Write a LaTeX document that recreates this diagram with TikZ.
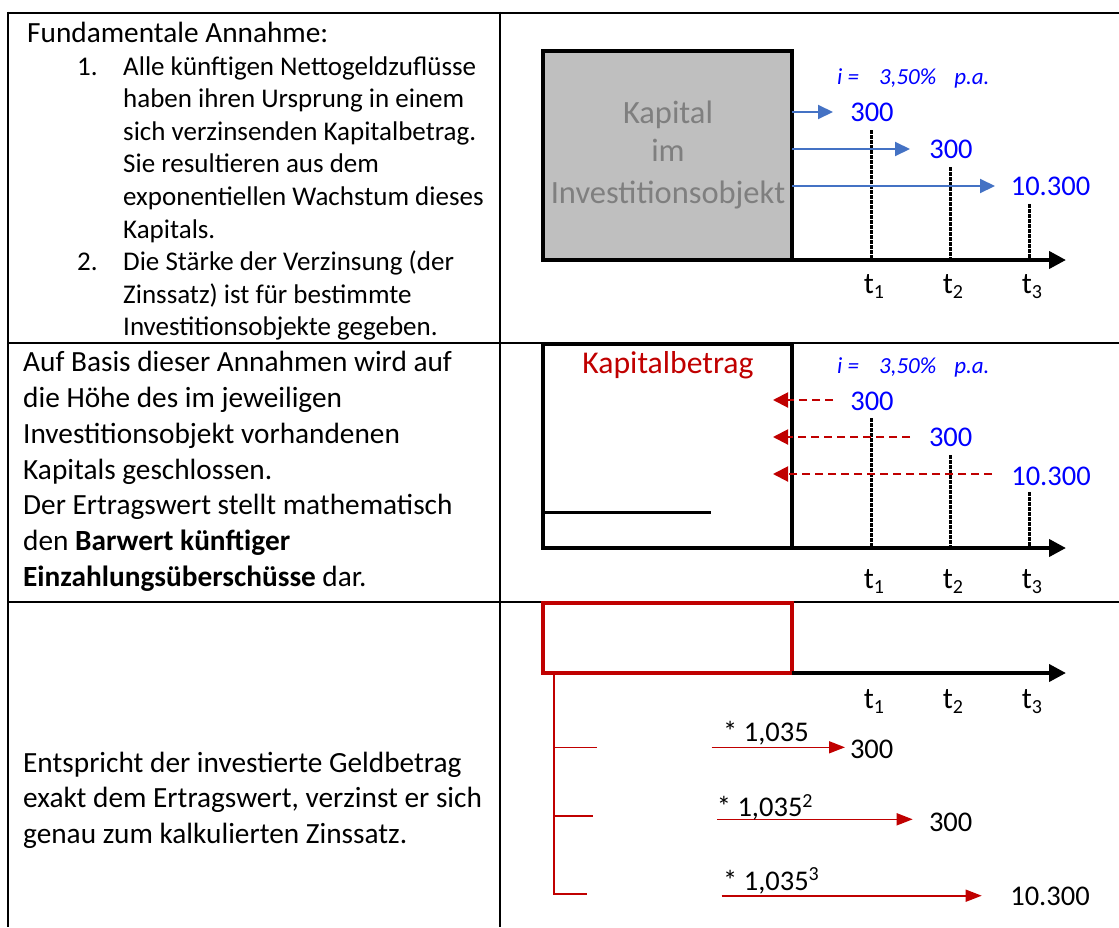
\documentclass[tikz,border=0pt]{standalone}
\usepackage{fontspec}
\setmainfont{Carlito}
\usetikzlibrary{arrows.meta}
\definecolor{tblue}{RGB}{0,0,255}
\definecolor{ablue}{RGB}{68,114,196}
\definecolor{dred}{RGB}{192,0,0}
\definecolor{boxgray}{RGB}{191,191,191}
\definecolor{txtgray}{RGB}{127,127,127}
\newcommand{\tsub}[1]{t\raisebox{-5pt}{\fontsize{20}{20}\selectfont #1}}
\newcommand{\ratetext}{i =\hspace{20pt}3,50\%\hspace{18pt}p.a.}
\begin{document}
\begin{tikzpicture}[x=1pt,y=-1pt,
  grid/.style={line width=2pt},
  bodyA/.style={anchor=base west, inner sep=0pt, font=\fontsize{27}{32}\selectfont},
  bodyB/.style={anchor=base west, inner sep=0pt, font=\fontsize{29.3}{35}\selectfont},
  capbox/.style={draw, line width=3.5pt, inner sep=0pt, outer sep=0pt},
  axis/.style={line width=4pt, -{Triangle[length=17pt,width=17pt]}},
  hatch/.style={line width=3pt, dash pattern=on 4pt off 1pt},
  barrow/.style={ablue, line width=2pt, -{Triangle[length=15pt,width=14pt]}},
  rdash/.style={dred, line width=2pt, dash pattern=on 8pt off 5pt, -{Triangle[length=15pt,width=15pt]}},
  rarrow/.style={dred, line width=1.6pt, -{Triangle[length=16pt,width=12pt]}},
  rline/.style={dred, line width=1.6pt},
  num/.style={anchor=base, inner sep=0pt, font=\fontsize{28.5}{30}\selectfont},
  rate/.style={anchor=base west, inner sep=0pt, text=tblue, font=\fontsize{23}{24}\selectfont\itshape},
  tlab/.style={anchor=base, inner sep=0pt, font=\fontsize{30}{30}\selectfont},
  gtxt/.style={anchor=base, inner sep=0pt, text=txtgray, font=\fontsize{32.5}{33}\selectfont},
  fac/.style={anchor=base west, inner sep=0pt, font=\fontsize{28.5}{29}\selectfont}
]
\useasboundingbox (0,0) rectangle (1119,927);

% table grid
\draw[grid] (7.5,12.5) -- (1119,12.5);
\draw[grid] (7.5,11.5) -- (7.5,927);
\draw[grid] (500,11.5) -- (500,927);
\draw[grid] (7.5,343) -- (1119,343);
\draw[grid] (7.5,602) -- (1119,602);

% row 1 text
\node[bodyB] (r1a) at (27,42) {Fundamentale Annahme:};
\node[bodyA] (n1) at (77,75) {1.};
\node[bodyA] (r1b) at (123,75) {Alle künftigen Nettogeldzuflüsse};
\node[bodyA] (r1c) at (123,107.6) {haben ihren Ursprung in einem};
\node[bodyA] (r1d) at (123,140.2) {sich verzinsenden Kapitalbetrag.};
\node[bodyA] (r1e) at (123,172.8) {Sie resultieren aus dem};
\node[bodyA] (r1f) at (123,205.4) {exponentiellen Wachstum dieses};
\node[bodyA] (r1g) at (123,238) {Kapitals.};
\node[bodyA] (n2) at (77,270.6) {2.};
\node[bodyA] (r1h) at (123,270.6) {Die Stärke der Verzinsung (der};
\node[bodyA] (r1i) at (123,303.2) {Zinssatz) ist für bestimmte};
\node[bodyA] (r1j) at (123,335.8) {Investitionsobjekte gegeben.};

% row 2 text
\node[bodyB] (r2a) at (23,371.7) {Auf Basis dieser Annahmen wird auf};
\node[bodyB] (r2b) at (23,407.5) {die Höhe des im jeweiligen};
\node[bodyB] (r2c) at (23,443.3) {Investitionsobjekt vorhandenen};
\node[bodyB] (r2d) at (23,479.1) {Kapitals geschlossen.};
\node[bodyB] (r2e) at (23,514.9) {Der Ertragswert stellt mathematisch};
\node[bodyB] (r2f) at (23,550.7) {den \textbf{Barwert künftiger}};
\node[bodyB] (r2g) at (23,586.5) {\textbf{Einzahlungsüberschüsse} dar.};

% row 3 text
\node[bodyB] (r3a) at (23,772) {Entspricht der investierte Geldbetrag};
\node[bodyB] (r3b) at (23,807.5) {exakt dem Ertragswert, verzinst er sich};
\node[bodyB] (r3c) at (23,843) {genau zum kalkulierten Zinssatz.};

% ---------- panel 1 ----------
\node[capbox, fill=boxgray, minimum width=249pt, minimum height=209pt] (cap1) at (667.5,155.5) {};
\node[gtxt] (g1) at (668,123.3) {Kapital};
\node[gtxt] (g2) at (668,161.7) {im};
\node[gtxt] (g3) at (668,203.3) {Investitionsobjekt};
\coordinate (ax1) at (1066,260);
\draw[axis] (cap1.south east) -- (ax1);
\coordinate (h1a) at (871,130); \coordinate (h1b) at (871,260);
\coordinate (h2a) at (950,167); \coordinate (h2b) at (950,260);
\coordinate (h3a) at (1029,204); \coordinate (h3b) at (1029,260);
\draw[hatch] (h1a) -- (h1b);
\draw[hatch] (h2a) -- (h2b);
\draw[hatch] (h3a) -- (h3b);
\node[rate] (i1) at (837,84) {\ratetext};
\node[num, text=tblue] (v11) at (872,121.7) {300};
\node[num, text=tblue] (v12) at (951,158.3) {300};
\node[num, text=tblue] (v13) at (1050.5,195) {10.300};
\coordinate (b1) at (833,112); \coordinate (b2) at (910,149); \coordinate (b3) at (995,186);
\draw[barrow] (cap1.east |- b1) -- (b1);
\draw[barrow] (cap1.east |- b2) -- (b2);
\draw[barrow] (cap1.east |- b3) -- (b3);
\node[tlab] (t11) at (874,293) {\tsub{1}};
\node[tlab] (t12) at (953,293) {\tsub{2}};
\node[tlab] (t13) at (1032,293) {\tsub{3}};

% ---------- panel 2 ----------
\node[capbox, minimum width=249pt, minimum height=204pt] (cap2) at (667.5,446) {};
\node[anchor=base, inner sep=0pt, text=dred, font=\fontsize{31.7}{32}\selectfont] (kb) at (668,373.3) {Kapitalbetrag};
\coordinate (il1) at (543,512); \coordinate (il2) at (711,512);
\draw[line width=3pt] (il1) -- (il2);
\coordinate (ax2) at (1066,548);
\draw[axis] (cap2.south east) -- (ax2);
\coordinate (k1a) at (871,418); \coordinate (k1b) at (871,548);
\coordinate (k2a) at (950,455); \coordinate (k2b) at (950,548);
\coordinate (k3a) at (1029,492); \coordinate (k3b) at (1029,548);
\draw[hatch] (k1a) -- (k1b);
\draw[hatch] (k2a) -- (k2b);
\draw[hatch] (k3a) -- (k3b);
\node[rate] (i2) at (837,373.3) {\ratetext};
\node[num, text=tblue] (v21) at (872,410) {300};
\node[num, text=tblue] (v22) at (950.7,446.7) {300};
\node[num, text=tblue] (v23) at (1051,485) {10.300};
\coordinate (d1s) at (833,400); \coordinate (d1e) at (773,400);
\coordinate (d2s) at (910,437); \coordinate (d2e) at (773,437);
\coordinate (d3s) at (992,474); \coordinate (d3e) at (773,474);
\draw[rdash] (d1s) -- (d1e);
\draw[rdash] (d2s) -- (d2e);
\draw[rdash] (d3s) -- (d3e);
\node[tlab] (t21) at (874,588) {\tsub{1}};
\node[tlab] (t22) at (953,588) {\tsub{2}};
\node[tlab] (t23) at (1032,588) {\tsub{3}};

% ---------- panel 3 ----------
\node[capbox, draw=dred, minimum width=249pt, minimum height=70pt] (cap3) at (667.5,638) {};
\coordinate (ax3) at (1066,673);
\draw[axis] (cap3.south east) -- (ax3);
\node[tlab] (t31) at (874,708) {\tsub{1}};
\node[tlab] (t32) at (953,708) {\tsub{2}};
\node[tlab] (t33) at (1032,708) {\tsub{3}};
\coordinate (vtop) at (554,673); \coordinate (vbot) at (554,894.7);
\draw[rline] (vtop) -- (vbot);
\coordinate (tk1) at (597,747.5); \coordinate (tk2) at (593,816); \coordinate (tk3) at (587,894);
\draw[rline] (vtop |- tk1) -- (tk1);
\draw[rline] (vtop |- tk2) -- (tk2);
\draw[rline] (vtop |- tk3) -- (tk3);
\coordinate (a1s) at (711.7,747.3); \coordinate (a1e) at (845,747.3);
\coordinate (a2s) at (717.3,819.3); \coordinate (a2e) at (912.7,819.3);
\coordinate (a3s) at (721.7,895.7); \coordinate (a3e) at (981.7,895.7);
\draw[rarrow] (a1s) -- (a1e);
\draw[rarrow] (a2s) -- (a2e);
\draw[rarrow] (a3s) -- (a3e);
\node[fac] (f1) at (723,741.7) {* 1,035};
\node[fac] (f2) at (716.7,816.7) {* 1,035\textsuperscript{2}};
\node[fac] (f3) at (723,890) {* 1,035\textsuperscript{3}};
\node[num] (v31) at (871.7,758.3) {300};
\node[num] (v32) at (950.7,831.7) {300};
\node[num] (v33) at (1050,905) {10.300};
\end{tikzpicture}
\end{document}
